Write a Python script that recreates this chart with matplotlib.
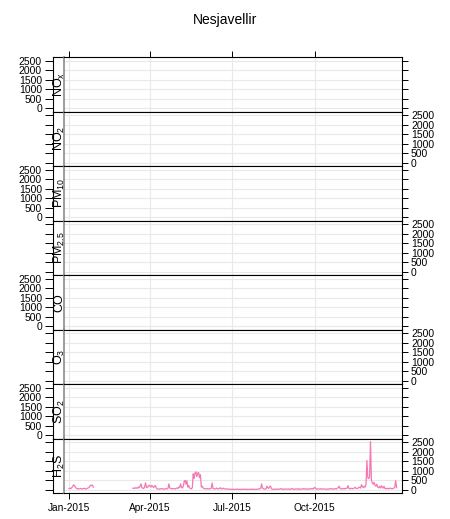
import matplotlib
matplotlib.use("Agg")
import matplotlib.pyplot as plt
import matplotlib.dates as mdates
import numpy as np

plt.rcParams["font.family"] = ["Liberation Sans", "DejaVu Sans"]

TITLE = "Nesjavellir"
POLLUTANTS = [r"NO$_\mathregular{x}$", r"NO$_\mathregular{2}$", r"PM$_\mathregular{10}$",
              r"PM$_\mathregular{2.5}$", "CO", r"O$_\mathregular{3}$",
              r"SO$_\mathregular{2}$", r"H$_\mathregular{2}$S"]
Y_TICKS = [0, 500, 1000, 1500, 2000, 2500]
X_TICKS = ["2015-01-01", "2015-04-01", "2015-07-01", "2015-10-01"]
X_LIMITS = ["2014-12-26 10:00", "2016-01-06 00:00"]

nan = np.nan
# daily H2S peaks; the other pollutants have no data
H2S_JAN = [80, 90, 70, 120, 180, 270, 240, 150, 90, 60, 70, 50, 60, 80, 60, 50,
           70, 90, 60, 50, 80, 100, 120, 200, 250, 230, 260, 150, nan, nan, nan]
H2S_FEB = [nan] * 28
H2S_MAR = [nan] * 12 + [90, 100, 80, 120, 100, 90, 150, 110, 200, 320, 120, 90,
                        80, 150, 370, 150, 120, 200, 250]
H2S_APR = [220, 150, 240, 180, 120, 200, 230, 100, 60, 50, 40, 60, 50, 80, 60,
           40, 50, 70, 60, 50, 90, 320, 100, 80, 60, 70, 80, 60, 50, 90]
H2S_MAY = [100, 80, 150, 120, 320, 150, 100, 200, 460, 500, 300, 480, 150, 230,
           100, 80, 60, 120, 850, 600, 900, 950, 700, 880, 920, 650, 800, 150,
           200, 100, 80]
H2S_JUN = [60, 50, 80, 60, 50, 70, 60, 90, 370, 80, 60, 50, 70, 100, 60, 50, 80,
           120, 60, 50, 100, 70, 50, 60, 40, 50, 60, 40, 30, 40]
H2S_JUL = [30, 40, 30, 30, 40, 30, 50, 30, 30, 40, 30, 30, 40, 30, 50, 30, 30,
           40, 30, 30, 40, 30, 50, 30, 30, 40, 30, 30, 40, 50, 60]
H2S_AUG = [60, 80, 320, 100, 60, 50, 40, 60, 200, 120, 80, 180, 200, 60, 40, 30,
           40, 50, 30, 40, 60, 30, 40, 50, 80, 40, 30, 50, 40, 60, 40]
H2S_SEP = [40, 50, 30, 60, 40, 80, 50, 30, 40, 60, 50, 40, 70, 30, 40, 50, 60,
           40, 80, 50, 40, 60, 30, 50, 70, 40, 60, 80, 50, 90]
H2S_OCT = [140, 80, 50, 40, 60, 50, 40, 70, 50, 40, 60, 50, 40, 30, 50, 60, 40,
           50, 80, 60, 50, 40, 70, 60, 50, 80, 120, 200, 90, 60, 50]
H2S_NOV = [60, 80, 50, 90, 70, 100, 230, 80, 60, 70, 90, 60, 80, 100, 140, 90,
           70, 100, 120, 150, 100, 280, 180, 120, 200, 150, 300, 1550, 650, 600]
H2S_DEC = [700, 2550, 500, 380, 300, 400, 250, 200, 300, 150, 120, 180, 100, 230,
           150, 100, 200, 80, 60, 90, 70, 60, 80, 100, 70, 60, 80, 100, 150, 490, 120]

W, H = 450, 519
LEFT, STRIP_W, RIGHT = 53, 11, 402
TOP, BOTTOM = 57, 493
LINE_COL = "#F478B2"
GRID_COL = "#E9E9E9"


def main() -> None:
    dates = np.arange("2015-01-01", "2016-01-01", dtype="datetime64[D]")
    h2s = np.array(H2S_JAN + H2S_FEB + H2S_MAR + H2S_APR + H2S_MAY + H2S_JUN
                   + H2S_JUL + H2S_AUG + H2S_SEP + H2S_OCT + H2S_NOV + H2S_DEC,
                   dtype=float)
    series = {r"H$_\mathregular{2}$S": h2s}

    fig = plt.figure(figsize=(W / 100, H / 100), dpi=100)
    fig.text(0.5, 1 - 20 / H, TITLE, ha="center", va="center", fontsize=10)

    ph = (BOTTOM - TOP) / len(POLLUTANTS)
    xt = [mdates.date2num(np.datetime64(d)) for d in X_TICKS]
    xl = [mdates.date2num(np.datetime64(d)) for d in X_LIMITS]
    n = len(POLLUTANTS)

    for i, name in enumerate(POLLUTANTS):
        y0 = 1 - (TOP + (i + 1) * ph) / H
        strip = fig.add_axes([LEFT / W, y0, STRIP_W / W, ph / H])
        ax = fig.add_axes([(LEFT + STRIP_W) / W, y0, (RIGHT - LEFT - STRIP_W) / W, ph / H])

        for a in (strip, ax):
            a.set_ylim(-160, 2710)
            a.set_yticks(Y_TICKS)
            for s in a.spines.values():
                s.set_linewidth(0.8)

        strip.set_xticks([])
        strip.spines["right"].set_visible(False)
        strip.tick_params(axis="y", direction="out", length=6, width=0.7, pad=2,
                          labelsize=7.5, labelleft=(i % 2 == 0))
        strip.text(0.55, 0.5, name, transform=strip.transAxes, rotation=90,
                   ha="center", va="center", fontsize=9)

        if name in series:
            ax.plot(dates, series[name], color=LINE_COL, lw=0.9)
        ax.set_xlim(xl)
        ax.set_xticks(xt)
        ax.xaxis.set_major_formatter(mdates.DateFormatter("%b-%Y"))
        ax.grid(True, color=GRID_COL, lw=0.8)
        ax.set_axisbelow(True)
        ax.spines["left"].set_color("#8c8c8c")
        ax.spines["left"].set_linewidth(1.2)
        ax.yaxis.tick_right()
        ax.tick_params(axis="y", direction="out", length=4.5, width=0.7, pad=2,
                       labelsize=7.5, labelright=(i % 2 == 1), left=False)
        ax.tick_params(axis="x", direction="out", length=4.5, width=0.7, pad=3,
                       labelsize=7.3, top=(i == 0), bottom=(i == n - 1),
                       labelbottom=(i == n - 1), labeltop=False)

    fig.savefig("out.png", dpi=100)
    plt.close(fig)


if __name__ == "__main__":
    main()
